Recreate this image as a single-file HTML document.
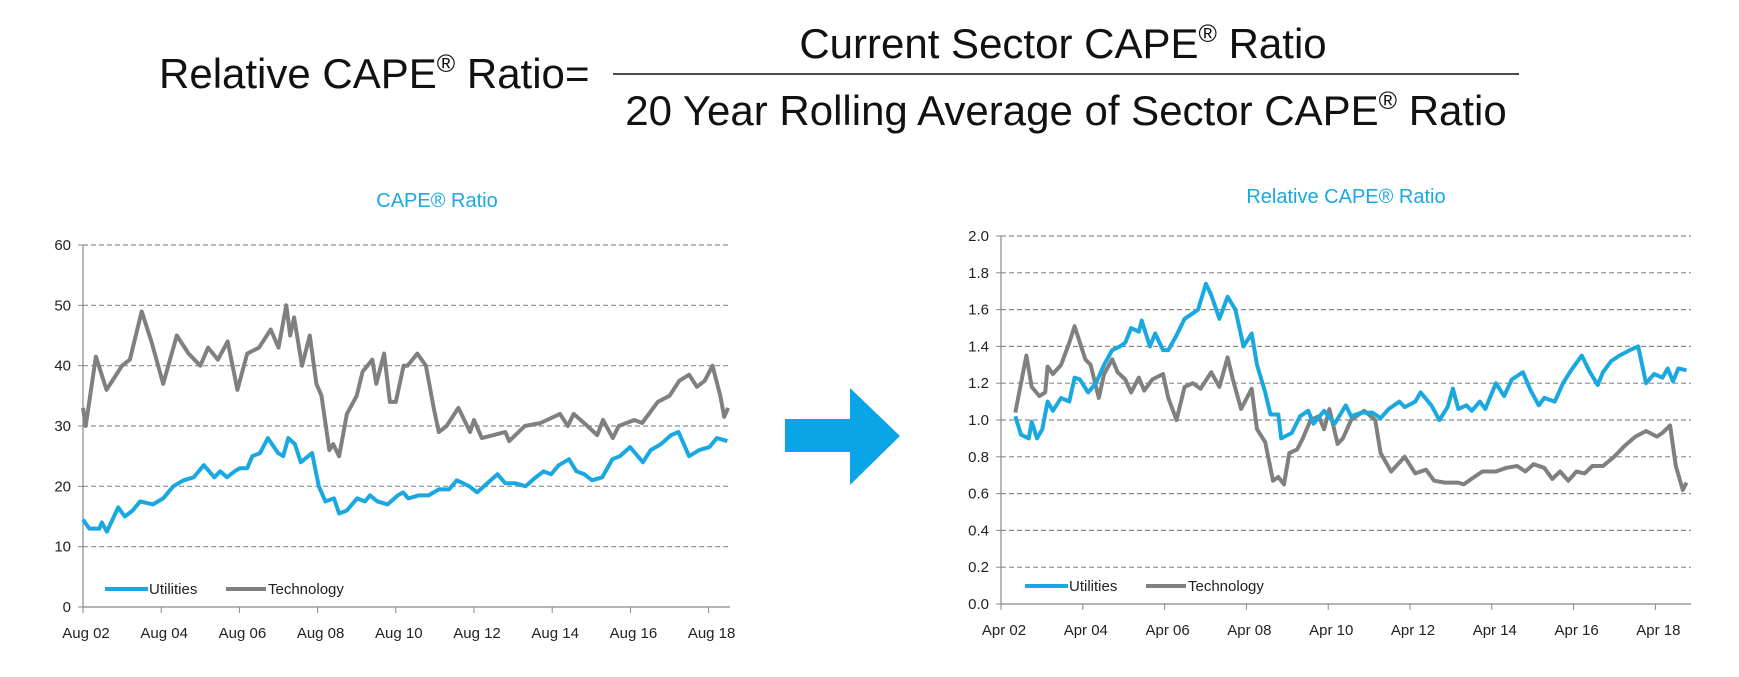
<!DOCTYPE html>
<html><head><meta charset="utf-8"><style>
body{margin:0;background:#fff;width:1739px;height:672px;overflow:hidden;font-family:"Liberation Sans",sans-serif}
svg text{font-family:"Liberation Sans",sans-serif}
</style></head><body>
<svg id="root" width="1739" height="672" viewBox="0 0 1739 672">
<g fill="#111">
<text x="159" y="88" font-size="42">Relative CAPE<tspan font-size="25" dy="-16">®</tspan><tspan dy="16"> Ratio</tspan></text>
<text x="565" y="88" font-size="42">=</text>
<text x="1063" y="58" font-size="42" text-anchor="middle">Current Sector CAPE<tspan font-size="25" dy="-16">®</tspan><tspan dy="16"> Ratio</tspan></text>
<line x1="613" y1="74" x2="1519" y2="74" stroke="#111" stroke-width="1.5"/>
<text x="1066" y="125" font-size="42" text-anchor="middle">20 Year Rolling Average of Sector CAPE<tspan font-size="25" dy="-16">®</tspan><tspan dy="16"> Ratio</tspan></text>
</g>
<polygon points="785,419 850,419 850,388 900,436 850,485 850,452 785,452" fill="#0aa5e6"/>
<g id="c1"></g>
<g id="c2"></g>
</svg>
<script>
// Left chart data (years since Aug 2002)
const leftTicks = ["Aug 02","Aug 04","Aug 06","Aug 08","Aug 10","Aug 12","Aug 14","Aug 16","Aug 18"];
const leftYTicks = [0,10,20,30,40,50,60];
const leftUtilT = [0,.16,.42,.48,.61,.9,1.07,1.27,1.46,1.79,2.05,2.31,2.57,2.83,3.09,3.36,3.51,3.68,3.88,4.01,4.2,4.33,4.53,4.73,4.99,5.12,5.25,5.42,5.57,5.86,6.03,6.2,6.42,6.55,6.75,7.01,7.21,7.34,7.53,7.79,8.05,8.19,8.32,8.58,8.84,9.1,9.36,9.56,9.88,10.08,10.34,10.6,10.8,11.06,11.32,11.58,11.78,11.97,12.17,12.43,12.62,12.82,13.02,13.28,13.54,13.73,13.99,14.19,14.32,14.52,14.78,15.04,15.23,15.5,15.76,16.02,16.21,16.48];
const leftUtilV = [14.5,13,13,14,12.5,16.5,15,16,17.5,17,18,20,21,21.5,23.5,21.5,22.5,21.5,22.5,23,23,25,25.5,28,25.5,25,28,27,24,25.5,20,17.5,18,15.5,16,18,17.5,18.5,17.5,17,18.5,19,18,18.5,18.5,19.5,19.5,21,20,19,20.5,22,20.5,20.5,20,21.5,22.5,22,23.5,24.5,22.5,22,21,21.5,24.5,25,26.5,25,24,26,27,28.5,29,25,26,26.5,28,27.5];
const leftTechT = [0,.07,.33,.6,1.0,1.2,1.5,1.75,2.05,2.4,2.7,3.0,3.2,3.45,3.7,3.95,4.2,4.5,4.8,5.0,5.2,5.3,5.4,5.6,5.8,5.97,6.1,6.3,6.4,6.55,6.75,7.0,7.15,7.4,7.5,7.7,7.85,8.0,8.2,8.3,8.55,8.77,8.97,9.1,9.3,9.6,9.9,10.0,10.2,10.5,10.8,10.9,11.3,11.7,12.2,12.4,12.55,12.9,13.15,13.3,13.55,13.7,14.1,14.3,14.7,15.0,15.25,15.5,15.7,15.9,16.1,16.3,16.4,16.5];
const leftTechV = [33,30,41.5,36,40,41,49,44,37,45,42,40,43,41,44,36,42,43,46,43,50,45,48,40,45,37,35,26,27,25,32,35,39,41,37,42,34,34,40,40,42,40,33,29,30,33,29,31,28,28.5,29,27.5,30,30.5,32,30,32,30,28.5,31,28,30,31,30.5,34,35,37.5,38.5,36.5,37.5,40,35,31.5,33];
// Right chart data (years since Apr 2002)
const rightTicks = ["Apr 02","Apr 04","Apr 06","Apr 08","Apr 10","Apr 12","Apr 14","Apr 16","Apr 18"];
const rightYTicks = ["0.0","0.2","0.4","0.6","0.8","1.0","1.2","1.4","1.6","1.8","2.0"];
const rightUtilT = [.35,.49,.68,.75,.88,1.01,1.14,1.27,1.47,1.67,1.8,1.93,2.13,2.32,2.52,2.72,2.91,3.04,3.18,3.37,3.44,3.64,3.77,3.96,4.09,4.29,4.49,4.69,4.82,5.01,5.14,5.34,5.54,5.73,5.93,6.13,6.26,6.46,6.59,6.78,6.85,7.11,7.31,7.51,7.64,7.9,8.16,8.43,8.56,8.82,9.08,9.28,9.48,9.74,9.87,10.13,10.26,10.52,10.72,10.92,11.05,11.18,11.38,11.51,11.71,11.84,12.1,12.3,12.49,12.76,12.95,13.15,13.28,13.54,13.74,13.94,14.2,14.4,14.59,14.72,14.92,15.12,15.38,15.58,15.77,15.97,16.17,16.3,16.43,16.56,16.76];
const rightUtilV = [1.02,.92,.9,.99,.9,.95,1.1,1.05,1.12,1.1,1.23,1.22,1.15,1.2,1.3,1.38,1.4,1.42,1.5,1.48,1.54,1.4,1.47,1.38,1.38,1.46,1.55,1.58,1.6,1.74,1.68,1.55,1.67,1.6,1.4,1.47,1.3,1.15,1.03,1.03,.9,.93,1.02,1.05,.98,1.05,.98,1.08,1.02,1.04,1.04,1.01,1.06,1.1,1.07,1.1,1.15,1.08,1.0,1.07,1.17,1.06,1.08,1.05,1.1,1.06,1.2,1.13,1.22,1.26,1.16,1.08,1.12,1.1,1.2,1.27,1.35,1.26,1.19,1.26,1.32,1.35,1.38,1.4,1.2,1.25,1.23,1.28,1.21,1.28,1.27];
const rightTechT = [.35,.49,.62,.75,.94,1.08,1.14,1.27,1.47,1.67,1.8,1.93,2.06,2.19,2.39,2.52,2.72,2.85,3.04,3.18,3.37,3.5,3.7,3.96,4.09,4.29,4.49,4.69,4.88,5.14,5.34,5.54,5.67,5.87,6.13,6.26,6.46,6.65,6.78,6.92,7.05,7.24,7.38,7.57,7.77,7.9,8.03,8.23,8.36,8.56,8.88,9.15,9.28,9.54,9.87,10.13,10.39,10.59,10.85,11.18,11.31,11.57,11.77,12.1,12.36,12.62,12.82,13.02,13.28,13.48,13.67,13.87,14.07,14.27,14.46,14.72,14.99,15.25,15.51,15.77,16.04,16.17,16.36,16.5,16.67,16.76];
const rightTechV = [1.04,1.2,1.35,1.18,1.13,1.15,1.29,1.25,1.3,1.42,1.51,1.42,1.33,1.3,1.12,1.25,1.33,1.26,1.22,1.15,1.23,1.16,1.22,1.25,1.12,1.0,1.18,1.2,1.17,1.26,1.18,1.34,1.22,1.06,1.17,.95,.88,.67,.69,.65,.82,.84,.9,1.0,1.02,.95,1.06,.87,.9,1.0,1.05,1.0,.82,.72,.8,.71,.73,.67,.66,.66,.65,.69,.72,.72,.74,.75,.72,.76,.74,.68,.72,.67,.72,.71,.75,.75,.8,.86,.91,.94,.91,.93,.97,.75,.62,.66];

const NS="http://www.w3.org/2000/svg";
function mk(parent,tag,attrs,text){const e=document.createElementNS(NS,tag);for(const k in attrs)e.setAttribute(k,attrs[k]);if(text!==undefined)e.textContent=text;parent.appendChild(e);return e;}

function chart(g,cfg){
  const xS=t=>cfg.x0+t*cfg.pxPerYear;
  const yS=v=>cfg.y0-(v-0)/cfg.yMax*(cfg.y0-cfg.yTop);
  const t=mk(g,'text',{x:cfg.titleX,y:cfg.titleY,'font-size':20,fill:'#1aa8e0','text-anchor':'middle'},cfg.title);
  
  
  cfg.yTicks.forEach(v=>{
    const y=yS(+v);
    if(+v>0){const l=mk(g,'line',{x1:cfg.x0,y1:y,x2:cfg.x1,y2:y,stroke:'#8c8c8c','stroke-width':1.2,'stroke-dasharray':'5,3'});
      
      }
    const tk=mk(g,'line',{x1:cfg.x0-5,y1:y,x2:cfg.x0,y2:y,stroke:'#888'});
    
    
    const lb=mk(g,'text',{x:cfg.x0-12,y:y+5,'font-size':15,fill:'#222','text-anchor':'end'},v);
    
    
  });
  const ax=mk(g,'line',{x1:cfg.x0,y1:cfg.yTop,x2:cfg.x0,y2:cfg.y0,stroke:'#888','stroke-width':1.2});
  
  
  const bx=mk(g,'line',{x1:cfg.x0,y1:cfg.y0,x2:cfg.x1,y2:cfg.y0,stroke:'#888','stroke-width':1.2});
  
  
  cfg.xTicks.forEach((s,i)=>{
    const x=xS(i*2);
    const tk=mk(g,'line',{x1:x,y1:cfg.y0,x2:x,y2:cfg.y0+6,stroke:'#888'});
    
    
    const lb=mk(g,'text',{x:x+3,y:cfg.y0+31,'font-size':15,fill:'#222','text-anchor':'middle'},s);
    
    
  });
  [[cfg.techT,cfg.techV,'#808080','technology-line'],[cfg.utilT,cfg.utilV,'#1aa8e0','utilities-line']].forEach(([T,V,c,n])=>{
    const d=T.map((tt,i)=>(i?'L':'M')+xS(tt).toFixed(1)+','+yS(V[i]).toFixed(1)).join('');
    const p=mk(g,'path',{d:d,fill:'none',stroke:c,'stroke-width':4,'stroke-linejoin':'round'});
    
    
  });
  const lg=mk(g,'g',{});
  
  
  const ly=cfg.legY;
  mk(lg,'line',{x1:cfg.legX,y1:ly,x2:cfg.legX+43,y2:ly,stroke:'#1aa8e0','stroke-width':4});
  const u=mk(lg,'text',{x:cfg.legX+44,y:ly+5,'font-size':15,fill:'#222'},'Utilities');
  
  
  mk(lg,'line',{x1:cfg.legX+121,y1:ly,x2:cfg.legX+161,y2:ly,stroke:'#808080','stroke-width':4});
  const te=mk(lg,'text',{x:cfg.legX+163,y:ly+5,'font-size':15,fill:'#222'},'Technology');
  
  
}
chart(document.getElementById('c1'),{x0:83,x1:730,pxPerYear:39.1,y0:607,yTop:245,yMax:60,yTicks:leftYTicks.map(String),xTicks:leftTicks,
  title:'CAPE® Ratio',titleX:437,titleY:207,utilT:leftUtilT,utilV:leftUtilV,techT:leftTechT,techV:leftTechV,legX:105,legY:589});
chart(document.getElementById('c2'),{x0:1001,x1:1691,pxPerYear:40.9,y0:604,yTop:236,yMax:2,yTicks:rightYTicks,xTicks:rightTicks,
  title:'Relative CAPE® Ratio',titleX:1346,titleY:203,utilT:rightUtilT,utilV:rightUtilV,techT:rightTechT,techV:rightTechV,legX:1025,legY:586});
</script>
</body></html>
